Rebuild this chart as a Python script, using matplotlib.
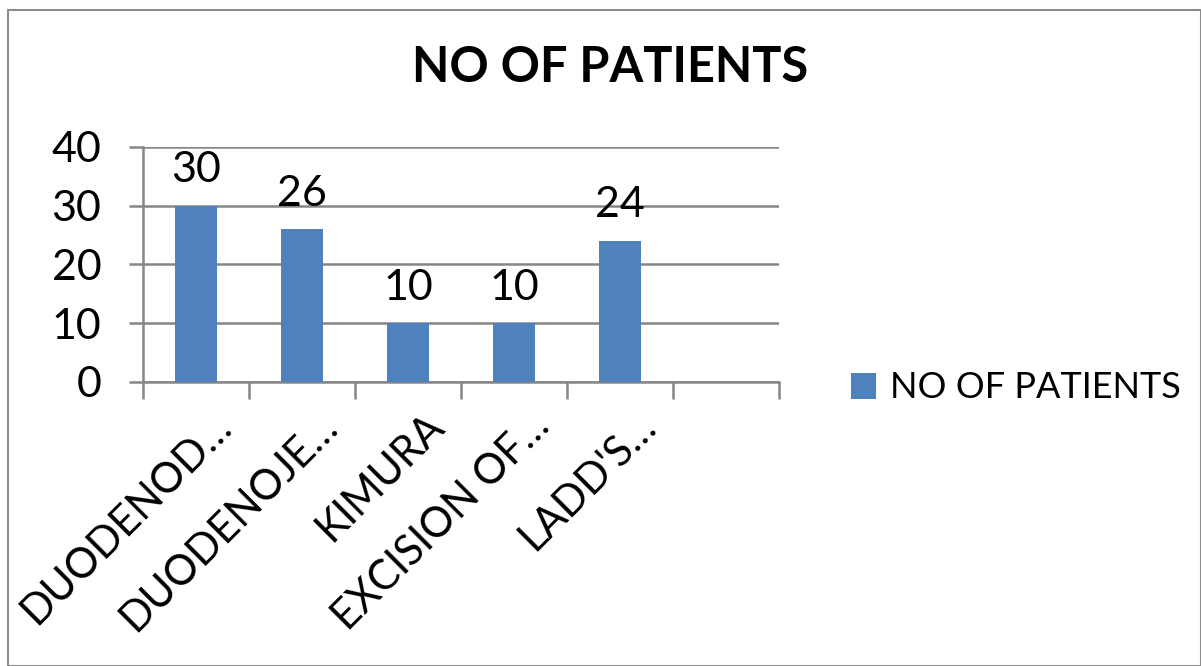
import matplotlib.pyplot as plt
import matplotlib.patches as mpatches
import matplotlib.transforms as mtransforms
import numpy as np

plt.rcParams['font.family'] = ['Lato', 'DejaVu Sans']

# chart data
categories = ["DUODENOD…", "DUODENOJE…", "KIMURA", "EXCISION OF…", "LADD'S…", ""]
patients = [30, 26, 10, 10, 24, None]
series_name = "NO OF PATIENTS"

bar_color = '#4F81BD'
grid_color = '#868686'

W, H = 1201, 666
fig = plt.figure(figsize=(W / 100, H / 100), dpi=100)

# outer chart frame
fig.add_artist(mpatches.Rectangle((8 / W, 0), (W - 8) / W, (H - 10) / H,
                                  transform=fig.transFigure, fill=False,
                                  edgecolor='#8c8c8c', linewidth=1.5))

ax = fig.add_axes([143 / W, 1 - 382 / H, (779 - 143) / W, (382 - 147) / H])

xs = np.arange(len(categories))
vals = [v if v is not None else 0 for v in patients]
bars = ax.bar(xs[:5], vals[:5], width=0.4, color=bar_color, label=series_name, zorder=3)

for x, v in zip(xs[:5], vals[:5]):
    ax.annotate(str(v), (x, v), xytext=(0, 12), textcoords='offset points',
                ha='center', va='bottom', fontsize=31)

ax.set_xlim(-0.5, len(categories) - 0.5)
ax.set_ylim(0, 40)
ax.set_yticks([0, 10, 20, 30, 40])
ax.yaxis.grid(True, color=grid_color, linewidth=1.8, zorder=0)
ax.tick_params(axis='y', labelsize=31, length=10, width=1.8, color=grid_color, pad=20)

# category labels in the middle, ticks on the boundaries
ax.set_xticks(xs)
ax.set_xticklabels(categories, rotation=45, ha='right', va='top',
                   rotation_mode='anchor', fontsize=30)
ax.tick_params(axis='x', which='major', length=0, pad=22)
shift = mtransforms.ScaledTranslation(16 / 100, 6 / 100, fig.dpi_scale_trans)
for lbl in ax.get_xticklabels():
    lbl.set_transform(lbl.get_transform() + shift)
ax.set_xticks(np.arange(len(categories) + 1) - 0.5, minor=True)
ax.tick_params(axis='x', which='minor', length=12, width=1.8, color=grid_color)

for s in ['top', 'right']:
    ax.spines[s].set_visible(False)
for s in ['left', 'bottom']:
    ax.spines[s].set_color(grid_color)
    ax.spines[s].set_linewidth(1.8)

fig.text(610 / W, 1 - 68 / H, "NO OF PATIENTS", ha='center', va='center',
         fontsize=35, fontweight='bold')

fig.legend(handles=[bars], labels=[series_name], loc='center left',
           bbox_to_anchor=(818 / W, 1 - 388 / H), frameon=False, fontsize=26,
           handlelength=0.7, handleheight=0.7, handletextpad=0.4)

fig.savefig('out.png', dpi=100)
